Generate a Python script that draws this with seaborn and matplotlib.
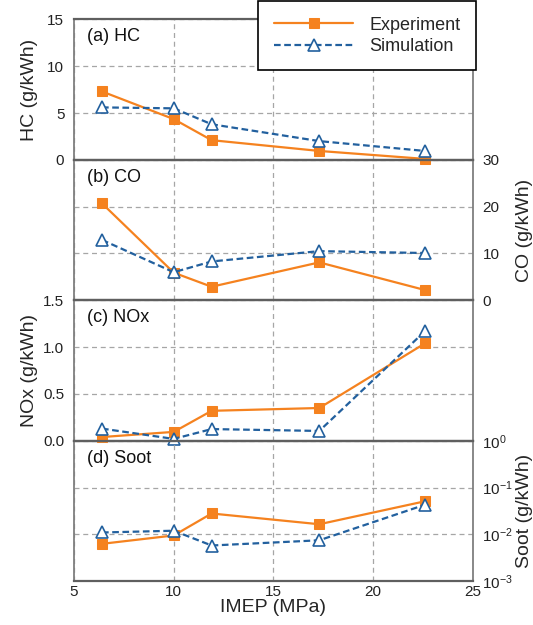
import numpy as np
import pandas as pd
import matplotlib
matplotlib.use('Agg')
import matplotlib.pyplot as plt
from matplotlib.ticker import NullLocator, FormatStrFormatter
import seaborn as sns

sns.set_theme(style='white')
plt.rcParams['font.family'] = ['Liberation Sans', 'DejaVu Sans']
plt.rcParams['mathtext.fontset'] = 'custom'
plt.rcParams['mathtext.rm'] = 'Liberation Sans'
plt.rcParams['mathtext.it'] = 'Liberation Sans:italic'
plt.rcParams['mathtext.bf'] = 'Liberation Sans:bold'

# data
imep = [6.4, 10.0, 11.9, 17.3, 22.6]
hc_exp = [7.3, 4.35, 2.1, 0.95, 0.1]
hc_sim = [5.6, 5.5, 3.8, 2.0, 0.95]
co_exp = [20.7, 5.9, 2.9, 8.1, 2.2]
co_sim = [12.9, 6.0, 8.3, 10.5, 10.1]
nox_exp = [0.04, 0.095, 0.32, 0.35, 1.04]
nox_sim = [0.13, 0.02, 0.125, 0.105, 1.17]
soot_exp = [0.0063, 0.0095, 0.028, 0.0165, 0.051]
soot_sim = [0.011, 0.012, 0.0058, 0.0075, 0.043]

orange = '#F5821F'
blue = '#22609E'
grid_c = '#A6A6A6'
spine_c = '#7F7F7F'

panels = [
    ('(a) HC', hc_exp, hc_sim, 'HC (g/kWh)', 'left', (0, 15), [0, 5, 10, 15]),
    ('(b) CO', co_exp, co_sim, 'CO (g/kWh)', 'right', (0, 30), [0, 10, 20, 30]),
    ('(c) NOx', nox_exp, nox_sim, 'NOx (g/kWh)', 'left', (0, 1.5), [0.0, 0.5, 1.0, 1.5]),
    ('(d) Soot', soot_exp, soot_sim, 'Soot (g/kWh)', 'right', (1e-3, 1e0), [1e-3, 1e-2, 1e-1, 1e0]),
]

fig, axes = plt.subplots(4, 1, sharex=True, figsize=(5.33, 6.25), dpi=100)
fig.patch.set_facecolor('white')
fig.subplots_adjust(left=0.139, right=0.887, top=0.969, bottom=0.070, hspace=0)

for ax, (tag, exp, sim, ylab, side, lims, ticks) in zip(axes, panels):
    ax.patch.set_visible(False)
    df_exp = pd.DataFrame({'IMEP': imep, 'val': exp})
    df_sim = pd.DataFrame({'IMEP': imep, 'val': sim})
    sns.lineplot(data=df_exp, x='IMEP', y='val', ax=ax, color=orange, lw=1.6,
                 marker='s', markersize=7.5, markerfacecolor=orange,
                 markeredgecolor=orange, label='Experiment', legend=False,
                 errorbar=None, clip_on=False, zorder=4)
    sns.lineplot(data=df_sim, x='IMEP', y='val', ax=ax, color=blue, lw=1.6,
                 linestyle=(0, (3, 1.6)), marker='^', markersize=9,
                 markerfacecolor='white', markeredgecolor=blue,
                 markeredgewidth=1.2, label='Simulation', legend=False,
                 errorbar=None, clip_on=False, zorder=5)
    if tag.startswith('(d)'):
        ax.set_yscale('log')
        ax.yaxis.set_minor_locator(NullLocator())
    ax.set_ylim(*lims)
    ax.set_yticks(ticks)
    if tag.startswith('(c)'):
        ax.yaxis.set_major_formatter(FormatStrFormatter('%.1f'))
    ax.set_xlim(5, 25)
    ax.set_xticks([5, 10, 15, 20, 25])
    ax.set_axisbelow(True)
    ax.grid(True, linestyle=(0, (4, 3)), color=grid_c, lw=0.9)
    ax.tick_params(axis='y', length=0, labelsize=11, pad=7, colors='#222222')
    ax.tick_params(axis='x', length=0, labelsize=11, pad=3, colors='#222222')
    if side == 'right':
        ax.yaxis.tick_right()
        ax.yaxis.set_label_position('right')
        ax.set_ylabel(ylab, fontsize=14)
        ax.yaxis.set_label_coords(1.108, 0.5)
    else:
        ax.set_ylabel(ylab, fontsize=14)
        ax.yaxis.set_label_coords(-0.09, 0.5)
    ax.set_xlabel('')
    ax.text(0.032, 0.875, tag, transform=ax.transAxes, fontsize=13,
            ha='left', va='center', color='#111111')
    for s in ax.spines.values():
        s.set_color(spine_c)
        s.set_linewidth(1.3)
    for s in ('top', 'bottom'):
        ax.spines[s].set_color('#5F5F5F')
        ax.spines[s].set_linewidth(1.6)

axes[-1].set_xlabel('IMEP (MPa)', fontsize=14, labelpad=0)

handles, labels = axes[0].get_legend_handles_labels()
leg = fig.legend(handles, labels, loc='upper right', bbox_to_anchor=(0.893, 0.998),
                 borderaxespad=0, fontsize=13, handlelength=4.4, handletextpad=0.9,
                 labelspacing=0.25, borderpad=0.85, fancybox=False, framealpha=1,
                 edgecolor='black')
leg.get_frame().set_linewidth(1.2)

fig.savefig('out.png', dpi=100, facecolor='white')
